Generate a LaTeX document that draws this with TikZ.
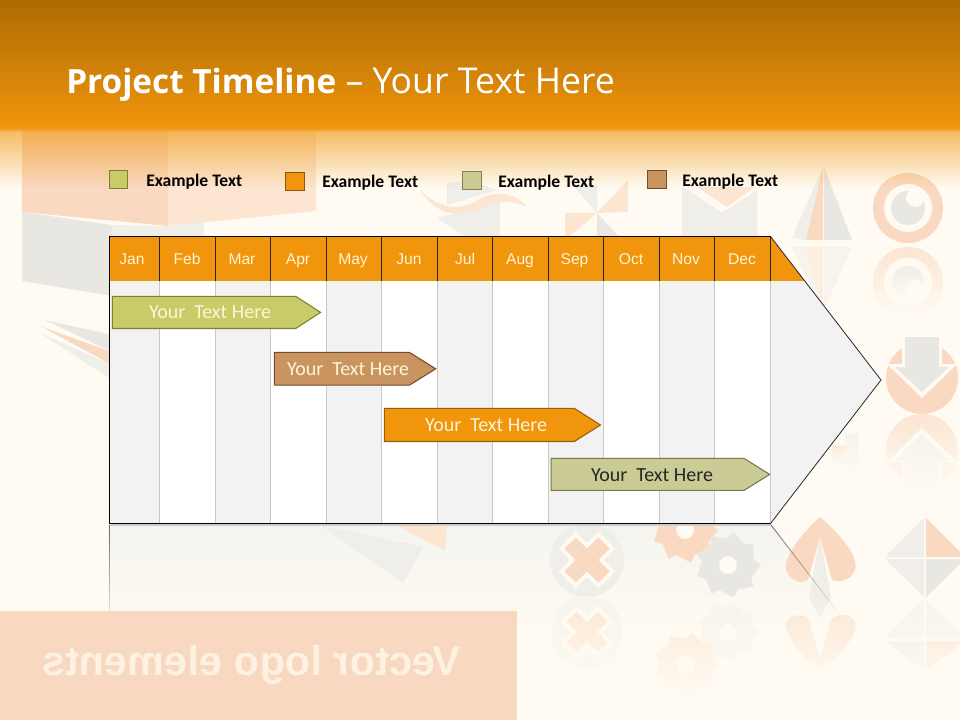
\documentclass[tikz,border=0pt]{standalone}
\usepackage{fontspec}
\setmainfont{Open Sans}
\newfontfamily\arialf{Liberation Sans}
\newfontfamily\calf{Carlito}
\usetikzlibrary{fadings}
\definecolor{bgc}{HTML}{FFFBF3}
\definecolor{hdtop}{HTML}{AD6B03}
\definecolor{hdor}{HTML}{F0950C}
\definecolor{po}{HTML}{F9D9C1}
\definecolor{pol}{HTML}{FCE6D2}
\definecolor{pox}{HTML}{FDEEDD}
\definecolor{pg}{HTML}{E9E7E1}
\definecolor{pgl}{HTML}{F0EEE8}
\definecolor{pgx}{HTML}{F7F4ED}
\definecolor{cream}{HTML}{FFF5D6}
\definecolor{panel}{HTML}{F8D8C0}
\definecolor{colg}{HTML}{F2F2F2}
\definecolor{divg}{HTML}{C8C8C8}
\definecolor{reflc}{HTML}{F5F4EF}
\definecolor{mirrorc}{HTML}{FDF1E2}
\tikzfading[name=hfade,top color=transparent!35,bottom color=transparent!100]
\tikzfading[name=rfade,top color=transparent!0,bottom color=transparent!100]
\tikzfading[name=ofade,top color=transparent!100,bottom color=transparent!0]
\tikzset{
  barshape/.style={line width=0.8pt,line join=miter},
  bartext/.style={font=\calf\fontsize{15}{17}\selectfont,text=#1,inner sep=0pt,anchor=base},
  swatch/.style={line width=0.8pt},
  legendtext/.style={font=\calf\bfseries\fontsize{13.2}{15}\selectfont,text=black,anchor=base west,inner sep=0pt},
  monthtext/.style={font=\arialf\fontsize{11.7}{13}\selectfont,text=cream,inner sep=0pt,anchor=base},
  gridline/.style={draw=divg,line width=0.9pt},
  headline/.style={draw=black!85,line width=0.7pt}
}
\newcommand{\sawgear}[4]{% x,y,r,colour
  \begin{scope}[shift={(#1,#2)}]
    \fill[#4] (0:#3) \foreach \a in {40,80,...,320} { -- (\a-12:#3*0.8) -- (\a:#3) } -- (348:#3*0.8) -- cycle;
    \fill[bgc] (0,0) circle ({#3*0.27});
  \end{scope}}
\begin{document}
\begin{tikzpicture}[x=0.75pt,y=-0.75pt]
\useasboundingbox (0,0) rectangle (960,720);
\fill[bgc] (0,0) rectangle (960,720);
% reflection panel
\fill[reflc,path fading=rfade] (109,525) -- (771,525) -- (840,615) -- (840,625) -- (109,625) -- cycle;
% backdrop: left block
\fill[po] (22,125) -- (168,125) -- (168,226) -- (22,212) -- cycle;
\fill[pol] (168,125) -- (316,125) -- (316,211) -- (168,226) -- cycle;
\fill[pg] (22,212) -- (112,225) -- (112,296) -- (22,281) -- cycle;
\fill[pgl] (112,225) -- (168,226) -- (204,222) -- (204,240) -- (112,240) -- cycle;
\fill[pg] (45,320) -- (112,335) -- (112,352) -- cycle;
\fill[po] (42,327) -- (112,352) -- (112,365) -- cycle;
\fill[pgl] (40,333) -- (112,365) -- (112,380) -- cycle;
% backdrop: swoosh
\fill[pgl] (447,183) -- (472,181) -- (497,190) -- (447,205) -- cycle;
\fill[pgl] (437,218) -- (500,202) -- (500,240) -- (470,240) -- cycle;
\fill[pol] (420,190) .. controls (438,208) and (458,212) .. (478,200) .. controls (495,190) and (515,192) .. (527,207) .. controls (512,200) and (498,200) .. (482,208) .. controls (458,220) and (435,214) .. (420,190) -- cycle;
% backdrop: pinwheel
\fill[pol] (597,213) -- (628,180) -- (628,212) -- cycle;
\fill[pol] (597,213) -- (565,213) -- (565,240) -- cycle;
\fill[pgl] (597,213) -- (597,185) -- (573,185) -- cycle;
\fill[pg] (597,213) -- (597,240) -- (622,240) -- cycle;
% backdrop: envelope
\fill[pgl] (682,186) -- (722,213) -- (757,190) -- (757,240) -- (682,240) -- cycle;
\fill[pol] (697,187) -- (755,187) -- (727,207) -- cycle;
% backdrop: kite
\fill[pgl] (823,167) -- (792,238) -- (806,240) -- cycle;
\fill[pg] (824,167) -- (852,240) -- (824,240) -- cycle;
\fill[po] (823,167) -- (806,240) -- (823,240) -- cycle;
\fill[pgx] (792,247) -- (806,247) -- (823,310) -- cycle;
\fill[pgx] (852,247) -- (824,247) -- (824,310) -- cycle;
\fill[pox] (806,247) -- (823,247) -- (823,310) -- cycle;
% backdrop: eye
\fill[po] (908,208) circle (35);
\fill[bgc] (908,208) circle (24);
\fill[pg] (908,208) circle (17);
\fill[bgc] (915,198) circle (9);
\fill[pol,path fading=rfade] (908,282) circle (35);
\fill[bgc] (908,282) circle (24);
\fill[pgl,path fading=rfade] (908,282) circle (16);
\fill[bgc] (915,290) circle (10);
% backdrop: arrow
\fill[po] (922,378) circle (36);
\fill[bgc] (902,333) -- (942,333) -- (942,364) -- (957,364) -- (922,398) -- (887,364) -- (902,364) -- cycle;
\fill[pg] (905,337) -- (939,337) -- (939,367) -- (949,367) -- (922,392) -- (895,367) -- (905,367) -- cycle;
\fill[pol,path fading=rfade] (922,450) circle (36);
\fill[bgc] (902,490) -- (942,490) -- (942,462) -- (957,462) -- (922,428) -- (887,462) -- (902,462) -- cycle;
\fill[pgx,path fading=rfade] (895,460) -- (922,434) -- (949,460) -- (939,460) -- (939,490) -- (905,490) -- (905,460) -- cycle;
\fill[pgx,path fading=rfade] (845,433) rectangle (859,475);
\fill[pox,path fading=rfade] (832,445) rectangle (845,465);
% backdrop: mid fragment
\fill[pgl] (320,525) -- (423,547) -- (403,583) -- cycle;
\fill[pol] (396,525) -- (447,525) -- (445,551) -- cycle;
% backdrop: X discs
\fill[pgl] (587,560) circle (37);
\begin{scope}[shift={(587,560)},rotate=45]
  \fill[bgc] (-28,-12) rectangle (28,12);
  \fill[bgc] (-12,-28) rectangle (12,28);
  \fill[po] (-24,-8) rectangle (24,8);
  \fill[po] (-8,-24) rectangle (8,24);
\end{scope}
\fill[pgx] (587,632) circle (36);
\begin{scope}[shift={(587,632)},rotate=45]
  \fill[bgc] (-26,-11) rectangle (26,11);
  \fill[bgc] (-11,-26) rectangle (11,26);
  \fill[pol] (-22,-7) rectangle (22,7);
  \fill[pol] (-7,-22) rectangle (7,22);
\end{scope}
% backdrop: gears
\sawgear{685}{530}{33}{po}
\sawgear{728}{565}{33}{pg}
\sawgear{728}{632}{31}{pgx}
\sawgear{686}{665}{33}{pol}
% backdrop: hearts
\fill[po] (820,517) .. controls (835,530) and (860,555) .. (855,570) .. controls (850,583) and (835,582) .. (832,580) -- (820,537) -- (808,580) .. controls (800,585) and (788,580) .. (786,568) .. controls (784,555) and (805,530) .. (820,517) -- cycle;
\fill[pgl] (820,537) -- (831,597) -- (820,618) -- (809,597) -- cycle;
\fill[pol] (820,670) .. controls (835,660) and (860,635) .. (855,622) .. controls (850,612) and (838,615) .. (832,618) -- (820,658) -- (808,618) .. controls (800,613) and (788,615) .. (786,624) .. controls (784,635) and (805,660) .. (820,670) -- cycle;
% backdrop: diamond
\fill[pgl] (924,518) -- (924,557) -- (885,557) -- cycle;
\fill[po] (926,518) -- (926,557) -- (965,557) -- cycle;
\fill[pgl] (924,597) -- (924,559) -- (885,559) -- cycle;
\fill[pg] (926,597) -- (926,559) -- (965,559) -- cycle;
\fill[pgx] (924,600) -- (924,638) -- (885,638) -- cycle;
\fill[pgx] (926,600) -- (926,638) -- (965,638) -- cycle;
\fill[pgl] (924,670) -- (924,641) -- (885,641) -- cycle;
\fill[pol] (926,670) -- (926,641) -- (965,641) -- cycle;
% fade of the lower backdrop
\fill[bgc,path fading=ofade] (518,590) rectangle (960,695);
\fill[bgc] (518,695) rectangle (960,720);
% header
\shade[top color=hdtop,bottom color=hdor] (0,0) rectangle (960,128);
\fill[hdor,path fading=hfade] (0,128) rectangle (960,188);
\fill[hdor,path fading=rfade] (0,127.5) rectangle (960,132);
% reflection edges
\coordinate (rl1) at (109.5,525);
\coordinate (rl2) at (109.5,628);
\coordinate (rd1) at (771,525);
\coordinate (rd2) at (840,615);
\draw[black!60,line width=0.7pt,path fading=rfade] (rl1) -- (rl2);
\draw[black!55,line width=0.7pt,path fading=rfade] (rd1) -- (rd2);
% bottom panel
\fill[panel] (0,611) rectangle (517,720);
\node[font=\arialf\bfseries\fontsize{31.2}{36}\selectfont,text=mirrorc,inner sep=0pt,xscale=-1] (mirror) at (251.5,665) {Vector logo elements};
% title
\node[anchor=base west,inner sep=0pt,text=white,font=\fontsize{25}{30}\selectfont] (title) at (66,94) {\textbf{Project Timeline}\fontsize{26.7}{30}\selectfont{} -- Your Text Here};
% legend
\draw[swatch,fill={rgb,255:red,201;green,203;blue,104},draw={rgb,255:red,127;green,127;blue,48}] (109.5,170.5) rectangle (127.5,188.5);
\draw[swatch,fill=hdor,draw={rgb,255:red,140;green,85;blue,10}] (285.5,172.5) rectangle (304.5,190.5);
\draw[swatch,fill={rgb,255:red,203;green,203;blue,150},draw={rgb,255:red,130;green,130;blue,85}] (462.5,171.5) rectangle (481.5,189.5);
\draw[swatch,fill={rgb,255:red,201;green,148;blue,95},draw={rgb,255:red,120;green,75;blue,40}] (647.5,170.5) rectangle (666.5,188.5);
\node[legendtext] (l1) at (146,186.5) {Example Text};
\node[legendtext] (l2) at (322,187.5) {Example Text};
\node[legendtext] (l3) at (498,187.5) {Example Text};
\node[legendtext] (l4) at (682,186.5) {Example Text};
% chart body
\fill[white] (109.5,236.5) rectangle (770,523.5);
\foreach \xa/\xb in {109.5/159.5,215/270.5,326/381.5,437/492.5,548/603.5,659/714.5}
  \fill[colg] (\xa,281) rectangle (\xb,523.5);
\fill[colg] (770,281) -- (804.7,281) -- (881,380) -- (770,523.5) -- cycle;
\foreach \xa in {159.5,215.5,270.5,326.5,381.5,437.5,492.5,548.5,603.5,659.5,714.5,770.5}
  \draw[gridline] (\xa,281) -- (\xa,523);
% chart header
\fill[hdor] (109.5,236.5) -- (770,236.5) -- (804.7,281) -- (109.5,281) -- cycle;
\foreach \xa in {159.5,215.5,270.5,326.5,381.5,437.5,492.5,548.5,603.5,659.5,714.5,770.5}
  \draw[headline] (\xa,236.5) -- (\xa,281);
% outline
\draw[black,line width=0.8pt,line join=miter] (770.5,523.5) -- (109.5,523.5) -- (109.5,236.5) -- (770.5,236.5);
\draw[black!85,line width=0.6pt,line join=miter] (770.5,236.5) -- (881,380) -- (770.5,523.5);
\fill[black!20] (110,524.2) rectangle (771,525.5);
% months
\foreach \n/\c/\m in {1/132/Jan,2/187/Feb,3/242/Mar,4/298/Apr,5/353/May,6/409/Jun,7/465/Jul,8/520/Aug,9/574.5/Sep,10/631/Oct,11/686/Nov,12/742/Dec}
  \node[monthtext] (m\n) at (\c,264.5) {\m};
% bars
\draw[barshape,fill={rgb,255:red,201;green,203;blue,104},draw={rgb,255:red,127;green,127;blue,48}] (112.4,296.3) -- (295.7,296.3) -- (320.6,312.4) -- (295.7,328.5) -- (112.4,328.5) -- cycle;
\node[bartext=cream] (b1) at (210,319) {Your\ \ Text Here};
\draw[barshape,fill={rgb,255:red,201;green,148;blue,95},draw={rgb,255:red,120;green,75;blue,40}] (274.4,352.4) -- (409.4,352.4) -- (435.7,368.8) -- (409.4,385.2) -- (274.4,385.2) -- cycle;
\node[bartext=cream] (b2) at (348,375) {Your\ \ Text Here};
\draw[barshape,fill=hdor,draw={rgb,255:red,150;green,95;blue,10}] (384.4,408.4) -- (574.4,408.4) -- (600.4,425) -- (574.4,441.5) -- (384.4,441.5) -- cycle;
\node[bartext=cream] (b3) at (486,431) {Your\ \ Text Here};
\draw[barshape,fill={rgb,255:red,203;green,203;blue,150},draw={rgb,255:red,120;green,120;blue,74}] (551.2,458.4) -- (744,458.4) -- (769.7,474.4) -- (744,490.4) -- (551.2,490.4) -- cycle;
\node[bartext={black!85}] (b4) at (652,481) {Your\ \ Text Here};
\end{tikzpicture}
\end{document}
